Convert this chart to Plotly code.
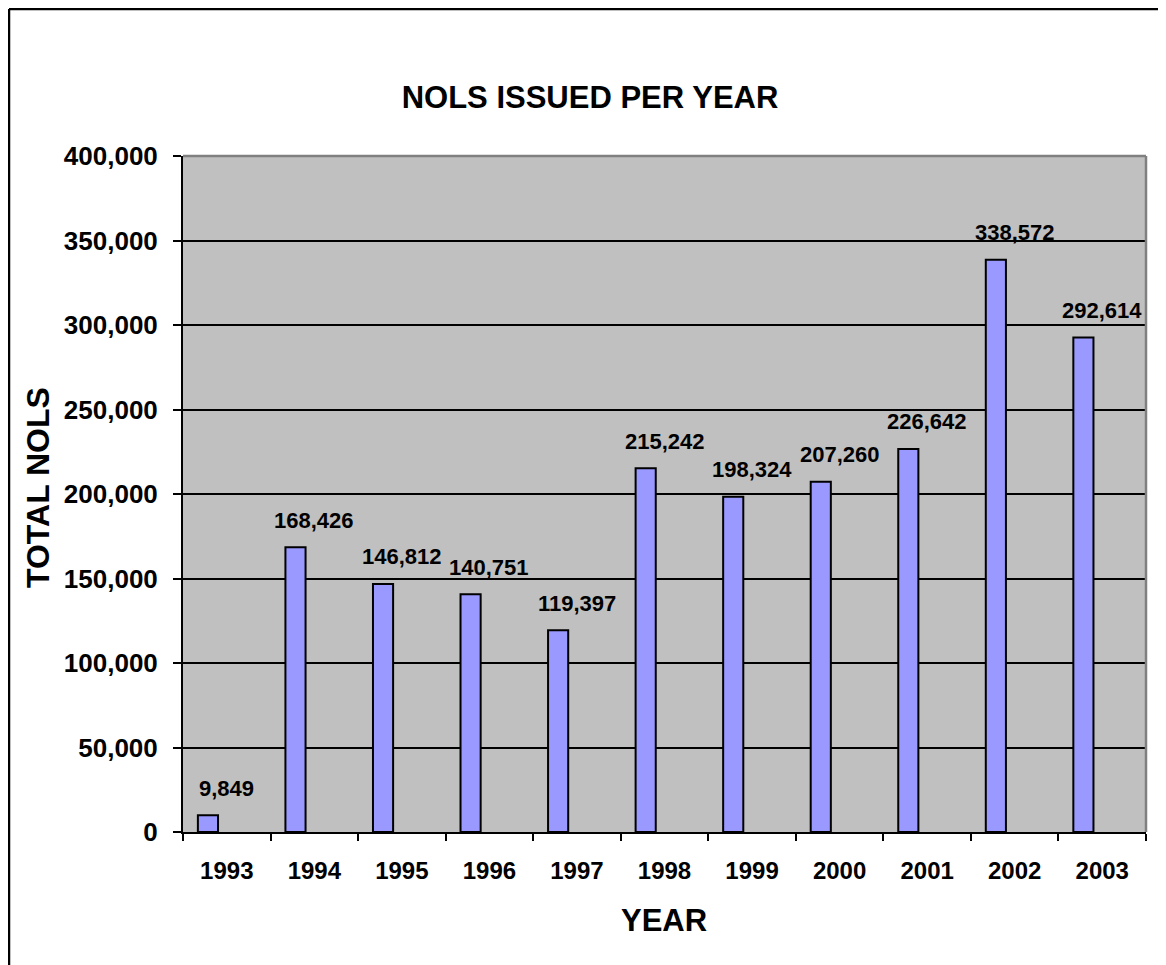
import plotly.graph_objects as go

years = ["1993", "1994", "1995", "1996", "1997", "1998", "1999", "2000", "2001", "2002", "2003"]
nols = [9849, 168426, 146812, 140751, 119397, 215242, 198324, 207260, 226642, 338572, 292614]
labels = ["9,849", "168,426", "146,812", "140,751", "119,397", "215,242", "198,324", "207,260", "226,642", "338,572", "292,614"]
y_ticks = [0, 50000, 100000, 150000, 200000, 250000, 300000, 350000, 400000]
y_tick_text = ["0", "50,000", "100,000", "150,000", "200,000", "250,000", "300,000", "350,000", "400,000"]

OFF = 8  # page body margin
W, H = 1166 - OFF, 965 - OFF
# plot area in page pixels: x 183..1146, y 156..832
L, R, T, B = 183 - OFF, (1166 - 1146), 156 - OFF, (965 - 832)
pw, ph = W - L - R, H - T - B

def px_x(x):  # page pixel -> paper
    return (x - OFF - L) / pw

def px_y(y):
    return (H - B - (y - OFF)) / ph

FONT = "Liberation Sans, Arial, sans-serif"

fig = go.Figure()
fig.add_trace(go.Bar(
    x=years, y=nols,
    width=0.23, offset=-0.33,
    marker=dict(color="#9999FF", line=dict(color="black", width=2)),
    hoverinfo="x+y",
))

for i, (v, t) in enumerate(zip(nols, labels)):
    fig.add_annotation(x=i, y=v, text=t, showarrow=False, xref="x", yref="y",
                       yanchor="middle", xanchor="center", yshift=27,
                       font=dict(family=FONT, size=22, color="black", weight="bold"))

# axis titles
fig.add_annotation(x=px_x(664), y=px_y(920), xref="paper", yref="paper", text="YEAR",
                   showarrow=False, xanchor="center", yanchor="middle",
                   font=dict(family=FONT, size=31, color="black", weight="bold"))
fig.add_annotation(x=px_x(38), y=px_y(488), xref="paper", yref="paper", text="TOTAL NOLS",
                   showarrow=False, xanchor="center", yanchor="middle", textangle=-90,
                   font=dict(family=FONT, size=32, color="black", weight="bold"))

# gray top/right plot border
fig.add_shape(type="line", xref="paper", yref="paper", x0=0, x1=1, y0=1, y1=1,
              line=dict(color="#808080", width=2.5), layer="above")
fig.add_shape(type="line", xref="paper", yref="paper", x0=1, x1=1, y0=0, y1=1,
              line=dict(color="#808080", width=2.5), layer="above")
# outer chart border (left and top only visible)
fig.add_shape(type="line", xref="paper", yref="paper",
              x0=px_x(OFF + 1), x1=px_x(1166 + 5), y0=px_y(OFF + 1), y1=px_y(OFF + 1),
              line=dict(color="black", width=2.5), layer="above")
fig.add_shape(type="line", xref="paper", yref="paper",
              x0=px_x(OFF + 1), x1=px_x(OFF + 1), y0=px_y(OFF + 1), y1=px_y(965 + 5),
              line=dict(color="black", width=2.5), layer="above")

fig.update_layout(
    width=W, height=H,
    margin=dict(l=L, r=R, t=T, b=B),
    paper_bgcolor="white",
    plot_bgcolor="#C0C0C0",
    showlegend=False,
    title=dict(text="NOLS ISSUED PER YEAR", x=(590 - OFF) / W, xref="container", xanchor="center",
               y=1 - (97 - OFF) / H, yref="container", yanchor="middle",
               font=dict(family=FONT, size=31, color="black", weight="bold")),
    xaxis=dict(
        type="category", range=[-0.5, 10.5], showline=True, linecolor="black", linewidth=2,
        ticks="outside", tickson="boundaries", ticklen=7, tickcolor="black", tickwidth=2,
        showgrid=False, ticklabelstandoff=16,
        tickfont=dict(family=FONT, size=24, color="black", weight="bold"),
    ),
    yaxis=dict(
        range=[0, 400000], tickvals=y_ticks, ticktext=y_tick_text,
        showline=True, linecolor="black", linewidth=2,
        ticks="outside", ticklen=8, tickcolor="black", tickwidth=2,
        showgrid=True, gridcolor="black", gridwidth=1.5, zeroline=False,
        ticklabelstandoff=10,
        tickfont=dict(family=FONT, size=26, color="black", weight="bold"),
    ),
)

fig.write_html("out.html")
